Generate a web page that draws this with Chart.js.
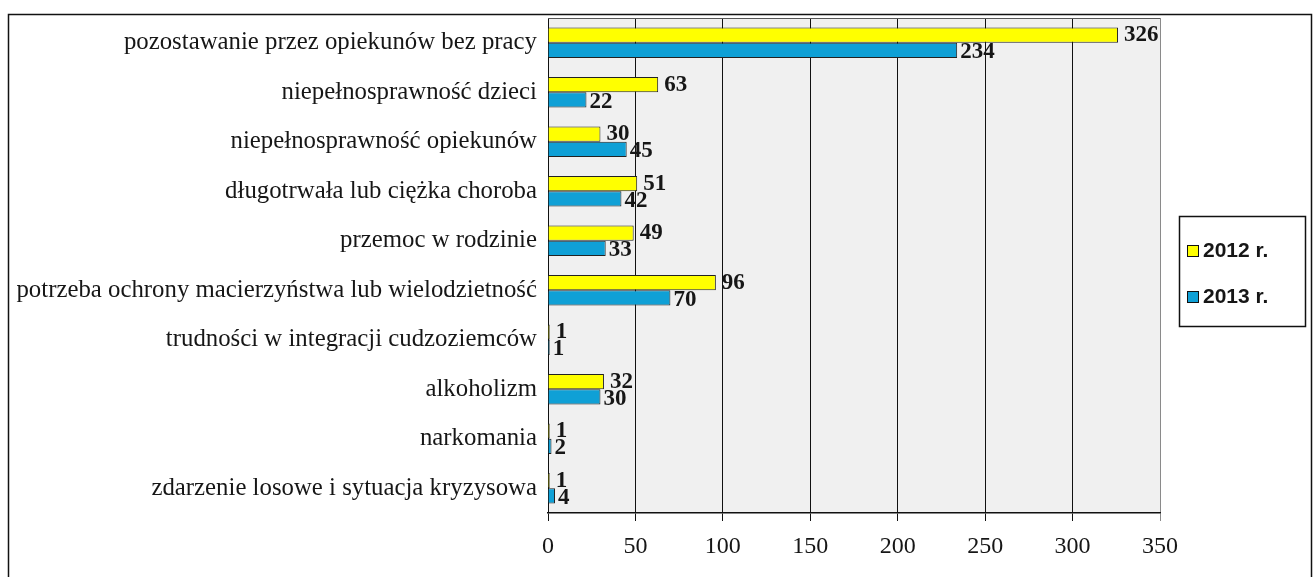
<!DOCTYPE html>
<html>
<head>
<meta charset="utf-8">
<script src="https://cdn.jsdelivr.net/npm/chart.js@4/dist/chart.umd.min.js"></script>
<style>
  html, body { margin: 0; padding: 0; background: #ffffff; }
  #wrap { position: relative; width: 1313px; height: 577px; }
</style>
</head>
<body>
<div id="wrap"><canvas id="c" width="1313" height="577"></canvas></div>
<script>
const categories = [
  "pozostawanie przez opiekunów bez pracy",
  "niepełnosprawność dzieci",
  "niepełnosprawność opiekunów",
  "długotrwała lub ciężka choroba",
  "przemoc w rodzinie",
  "potrzeba ochrony macierzyństwa lub wielodzietność",
  "trudności w integracji cudzoziemców",
  "alkoholizm",
  "narkomania",
  "zdarzenie losowe i sytuacja kryzysowa"
];
const seriesNames = ["2012 r.", "2013 r."];
const values2012 = [326, 63, 30, 51, 49, 96, 1, 32, 1, 1];
const values2013 = [234, 22, 45, 42, 33, 70, 1, 30, 2, 4];
const xTicks = [0, 50, 100, 150, 200, 250, 300, 350];

const SERIF = "'Liberation Serif', 'Times New Roman', serif";
const SANS = "'Liberation Sans', Arial, sans-serif";
const INK = "#161616";

const framePlugin = {
  id: 'frame',
  beforeDraw(chart) {
    const ctx = chart.ctx, a = chart.chartArea;
    ctx.save();
    ctx.fillStyle = '#ffffff';
    ctx.fillRect(0, 0, chart.width, chart.height);
    ctx.strokeStyle = '#111';
    ctx.lineWidth = 1.5;
    ctx.strokeRect(8.5, 14.5, chart.width - 10, chart.height + 20);
    ctx.fillStyle = '#f0f0f0';
    ctx.fillRect(a.left, a.top, a.right - a.left, a.bottom - a.top);
    ctx.restore();
  },
  afterDraw(chart) {
    const ctx = chart.ctx, a = chart.chartArea;
    ctx.save();
    ctx.strokeStyle = '#555';
    ctx.lineWidth = 1;
    ctx.beginPath();
    ctx.moveTo(a.left, a.top + 0.5);
    ctx.lineTo(a.right, a.top + 0.5);
    ctx.stroke();
    ctx.restore();
  }
};

const labelPlugin = {
  id: 'valueLabels',
  afterDatasetsDraw(chart) {
    const ctx = chart.ctx;
    ctx.save();
    ctx.font = "bold 23px " + SERIF;
    ctx.fillStyle = INK;
    ctx.textAlign = 'left';
    ctx.textBaseline = 'middle';
    chart.data.datasets.forEach((ds, di) => {
      const meta = chart.getDatasetMeta(di);
      meta.data.forEach((bar, i) => {
        const dx = di === 0 ? 6 : 3;
        const dy = di === 0 ? 0 : 2;
        ctx.fillText(String(ds.data[i]), bar.x + dx, bar.y + dy);
      });
    });
    ctx.restore();
  }
};

const legendPlugin = {
  id: 'boxLegend',
  afterDraw(chart) {
    const ctx = chart.ctx;
    const bx = 1179, by = 216, bw = 126, bh = 110;
    ctx.save();
    ctx.fillStyle = '#ffffff';
    ctx.fillRect(bx, by, bw, bh);
    ctx.strokeStyle = '#111';
    ctx.lineWidth = 1.5;
    ctx.strokeRect(bx + 0.5, by + 0.5, bw, bh);
    ctx.font = "bold 21px " + SANS;
    ctx.textBaseline = 'middle';
    ctx.textAlign = 'left';
    const rows = [250, 296];
    chart.data.datasets.forEach((ds, i) => {
      const y = rows[i];
      ctx.fillStyle = ds.backgroundColor;
      ctx.fillRect(bx + 8, y - 5, 11, 11);
      ctx.strokeStyle = '#111';
      ctx.lineWidth = 1;
      ctx.strokeRect(bx + 8.5, y - 4.5, 11, 11);
      ctx.fillStyle = INK;
      ctx.fillText(ds.label, bx + 24, y + 1);
    });
    ctx.restore();
  }
};

new Chart(document.getElementById('c'), {
  type: 'bar',
  data: {
    labels: categories,
    datasets: [
      { label: seriesNames[0], data: values2012, backgroundColor: '#ffff00', borderColor: '#222', borderWidth: 1 },
      { label: seriesNames[1], data: values2013, backgroundColor: '#0fa0d6', borderColor: '#222', borderWidth: 1 }
    ]
  },
  options: {
    indexAxis: 'y',
    responsive: false,
    animation: false,
    devicePixelRatio: 1,
    layout: { padding: { left: 0, top: 18, right: 153, bottom: 0 } },
    datasets: { bar: { categoryPercentage: 0.62, barPercentage: 1.0 } },
    plugins: { legend: { display: false }, tooltip: { enabled: false } },
    scales: {
      x: {
        type: 'linear',
        min: 0, max: 350,
        afterBuildTicks(scale) { scale.ticks = xTicks.map(v => ({ value: v })); },
        afterFit(scale) { scale.height = 64; scale.paddingLeft = 0; scale.paddingRight = 0; },
        ticks: { color: INK, font: { family: SERIF, size: 24 }, padding: 11, maxRotation: 0 },
        grid: {
          color: ctx => (ctx.tick && ctx.tick.value === 350) ? '#8a8a8a' : '#111',
          lineWidth: 1,
          tickLength: 8,
          drawTicks: true
        },
        border: { display: true, color: '#111', width: 1.5 }
      },
      y: {
        afterFit(scale) { scale.width = 548; scale.paddingTop = 0; scale.paddingBottom = 0; },
        ticks: { color: INK, font: { family: SERIF, size: 24.8 }, padding: 11, autoSkip: false },
        grid: { display: false, drawTicks: false },
        border: { display: false }
      }
    }
  },
  plugins: [framePlugin, labelPlugin, legendPlugin]
});
</script>
</body>
</html>
